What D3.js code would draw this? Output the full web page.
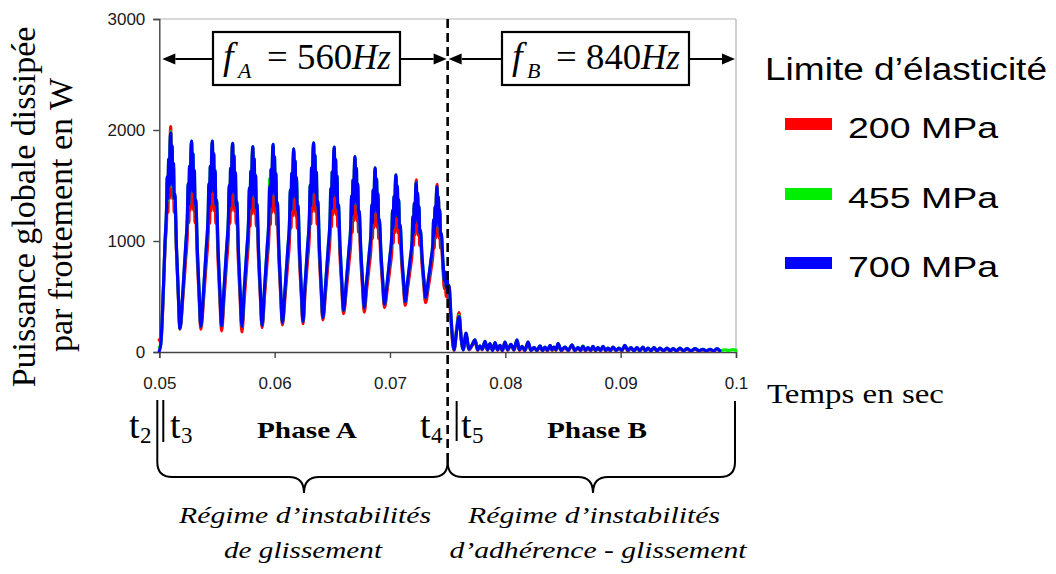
<!DOCTYPE html>
<html><head><meta charset="utf-8">
<script src="https://cdn.jsdelivr.net/npm/d3@7"></script>
<style>body{margin:0;background:#fff;}svg{display:block}</style>
</head><body>
<svg id="c" width="1056" height="574"></svg>
<script>
// ---------- DATA ----------
const timeMs = [
50.00,50.12,50.35,50.50,50.63,50.69,50.75,50.81,50.87,50.93,50.99,51.05,51.11,51.17,51.23,51.29,51.35,51.49,51.64,51.79,
52.05,52.28,52.44,52.50,52.56,52.62,52.68,52.74,52.80,52.86,52.92,52.98,53.04,53.10,53.16,53.30,53.45,53.60,
53.85,54.08,54.24,54.30,54.36,54.42,54.48,54.54,54.60,54.66,54.72,54.78,54.84,54.90,54.96,55.10,55.25,55.40,
55.61,55.84,56.00,56.06,56.12,56.18,56.24,56.30,56.36,56.42,56.48,56.54,56.60,56.66,56.72,56.86,57.01,57.16,
57.36,57.59,57.75,57.81,57.87,57.93,57.99,58.05,58.11,58.17,58.23,58.29,58.35,58.41,58.47,58.61,58.76,58.91,
59.12,59.35,59.51,59.57,59.63,59.69,59.75,59.81,59.87,59.93,59.99,60.05,60.11,60.17,60.23,60.37,60.52,60.67,
60.91,61.14,61.30,61.36,61.42,61.48,61.54,61.60,61.66,61.72,61.78,61.84,61.90,61.96,62.02,62.16,62.31,62.46,
62.63,62.86,63.02,63.08,63.14,63.20,63.26,63.32,63.38,63.44,63.50,63.56,63.62,63.68,63.74,63.88,64.03,64.18,
64.42,64.65,64.81,64.87,64.93,64.99,65.05,65.11,65.17,65.23,65.29,65.35,65.41,65.47,65.53,65.67,65.82,65.97,
66.22,66.45,66.61,66.67,66.73,66.79,66.85,66.91,66.97,67.03,67.09,67.15,67.21,67.27,67.33,67.47,67.62,67.77,
67.97,68.20,68.36,68.42,68.48,68.54,68.60,68.66,68.72,68.78,68.84,68.90,68.96,69.02,69.08,69.22,69.37,69.52,
69.77,70.00,70.16,70.22,70.28,70.34,70.40,70.46,70.52,70.58,70.64,70.70,70.76,70.82,70.88,71.02,71.17,71.32,
71.53,71.76,71.92,71.98,72.04,72.10,72.16,72.22,72.28,72.34,72.40,72.46,72.52,72.58,72.64,72.78,72.93,73.08,
73.33,73.56,73.72,73.78,73.84,73.90,73.96,74.02,74.08,74.14,74.20,74.26,74.32,74.38,74.44,74.60,74.72,74.80,74.88,74.96,75.04,75.12,75.30,
75.55,75.78,75.99,76.18,76.35,76.59,76.85,77.10,77.37,77.60,77.80,78.00,78.24,78.45,78.67,78.90,
79.11,79.32,79.54,79.75,79.97,80.20,80.49,80.75,81.01,81.22,81.45,81.70,81.97,82.22,82.49,82.75,
83.01,83.22,83.44,83.65,83.88,84.05,84.22,84.40,84.57,84.85,85.17,85.45,85.78,86.02,86.30,86.52,
86.73,86.95,87.16,87.40,87.60,87.82,88.03,88.25,88.47,88.70,88.90,89.10,89.33,89.60,89.85,90.10,
90.37,90.62,90.89,91.15,91.41,91.67,91.93,92.15,92.37,92.62,92.89,93.15,93.41,93.72,94.02,94.30,
94.54,94.85,95.14,95.45,95.75,96.10,96.44,96.80,97.13,97.45,97.74,98.05,98.35,98.60,
99.00,99.40,99.75,100.0
];
const mpa200 = [
110,90,540,960,1177,1543,1259,1705,1380,1827,2030,1583,1827,1380,1665,1259,1340,910,530,205,
500,825,1090,1429,1166,1579,1278,1692,1880,1466,1692,1278,1542,1166,1241,827,495,205,
495,821,1085,1421,1159,1571,1272,1683,1870,1459,1683,1272,1533,1159,1234,816,482,190,
485,817,1085,1421,1159,1571,1272,1683,1870,1459,1683,1272,1533,1159,1234,812,475,180,
471,797,1061,1391,1135,1537,1244,1647,1830,1427,1647,1244,1501,1135,1208,813,497,220,
501,817,1073,1406,1147,1554,1258,1665,1850,1443,1665,1258,1517,1147,1221,831,518,245,
509,804,1044,1368,1116,1512,1224,1620,1800,1404,1620,1224,1476,1116,1188,815,516,255,
527,832,1079,1414,1153,1562,1265,1674,1860,1451,1674,1265,1525,1153,1228,853,553,290,
543,826,1056,1383,1128,1529,1238,1638,1820,1420,1638,1238,1492,1128,1201,859,585,345,
564,810,1009,1322,1079,1462,1183,1566,1740,1357,1566,1183,1427,1079,1148,833,581,360,
557,778,957,1254,1023,1386,1122,1485,1650,1287,1485,1122,1353,1023,1089,813,593,400,
570,761,916,1201,980,1327,1074,1422,1580,1232,1422,1074,1296,980,1043,794,594,420,
578,755,899,1178,961,1302,1054,1395,1550,1209,1395,1054,1271,961,1023,792,607,445,
587,747,876,1148,936,1268,1027,1359,1510,1178,1359,1027,1238,936,997,740,570,620,500,560,470,520,260,
15,210,355,110,25,160,20,55,100,15,50,20,90,15,70,15,
80,15,55,10,85,15,65,15,100,15,45,10,85,10,40,10,
50,10,40,10,55,15,40,15,70,10,40,10,60,10,35,10,
50,10,35,10,45,10,35,10,45,10,30,10,40,10,30,10,
55,10,35,10,35,10,40,10,30,10,35,10,30,10,30,10,
25,10,30,10,25,10,25,10,20,8,20,8,25,8,
null,null,null,null
];
const mpa455 = [
40,70,550,990,1290,1570,1370,1725,1490,1845,1985,1650,1845,1490,1690,1370,1410,930,545,210,
555,941,1254,1520,1330,1672,1444,1786,1900,1596,1786,1444,1634,1330,1368,913,549,230,
568,947,1254,1520,1330,1672,1444,1786,1900,1596,1786,1444,1634,1330,1368,915,552,235,
567,939,1241,1504,1316,1654,1429,1767,1880,1579,1767,1429,1617,1316,1354,904,545,230,
557,924,1221,1480,1295,1628,1406,1739,1850,1554,1739,1406,1591,1295,1332,895,546,240,
568,936,1234,1560,1309,1646,1421,1758,1870,1571,1758,1421,1608,1309,1346,914,568,265,
576,925,1208,1464,1281,1610,1391,1720,1830,1537,1720,1391,1574,1281,1318,901,567,275,
595,953,1244,1508,1320,1659,1433,1772,1885,1583,1772,1433,1621,1320,1357,938,603,310,
610,946,1218,1476,1292,1624,1402,1734,1845,1550,1734,1402,1587,1292,1328,947,642,375,
635,926,1162,1408,1232,1549,1338,1654,1760,1478,1654,1338,1514,1232,1267,920,643,400,
630,887,1096,1328,1162,1461,1262,1560,1660,1394,1560,1262,1428,1162,1195,889,644,430,
636,866,1053,1276,1117,1404,1212,1499,1595,1340,1499,1212,1372,1117,1148,871,649,455,
637,841,1007,1220,1068,1342,1159,1434,1525,1281,1434,1159,1312,1068,1098,855,660,490,
650,830,980,1190,1040,1305,1130,1395,1485,1250,1395,1130,1275,1040,1070,790,635,715,575,655,535,595,290,
20,200,330,115,20,165,25,60,110,20,55,25,95,20,75,15,
85,20,60,15,90,20,70,20,110,20,50,15,90,15,40,15,
55,15,45,15,60,20,45,20,75,15,45,15,65,15,40,15,
55,15,40,15,50,15,40,15,50,15,35,15,45,15,35,15,
60,15,40,12,40,12,45,12,35,12,40,12,35,12,35,12,
30,12,35,12,30,12,30,12,25,10,25,10,30,12,
20,15,22,15
];
const mpa700 = [
10,60,560,1000,1304,1580,1383,1738,1501,1857,1975,1659,1857,1501,1699,1383,1422,937,549,210,
555,941,1254,1520,1330,1672,1444,1786,1900,1596,1786,1444,1634,1330,1368,913,549,230,
568,947,1254,1520,1330,1672,1444,1786,1900,1596,1786,1444,1634,1330,1368,915,552,235,
567,939,1241,1504,1316,1654,1429,1767,1880,1579,1767,1429,1617,1316,1354,904,545,230,
557,924,1221,1480,1295,1628,1406,1739,1850,1554,1739,1406,1591,1295,1332,895,546,240,
568,936,1234,1496,1309,1646,1421,1758,1870,1571,1758,1421,1608,1309,1346,914,568,265,
576,925,1208,1464,1281,1610,1391,1720,1830,1537,1720,1391,1574,1281,1318,901,567,275,
595,953,1244,1508,1320,1659,1433,1772,1885,1583,1772,1433,1621,1320,1357,938,603,310,
610,946,1218,1476,1292,1624,1402,1734,1845,1550,1734,1402,1587,1292,1328,947,642,375,
635,926,1162,1408,1232,1549,1338,1654,1760,1478,1654,1338,1514,1232,1267,920,643,400,
630,887,1096,1328,1162,1461,1262,1560,1660,1394,1560,1262,1428,1162,1195,889,644,430,
636,866,1053,1276,1117,1404,1212,1499,1595,1340,1499,1212,1372,1117,1148,871,649,455,
637,841,1007,1220,1068,1342,1159,1434,1525,1281,1434,1159,1312,1068,1098,855,660,490,
653,835,983,1192,1043,1311,1132,1401,1490,1252,1401,1132,1281,1043,1073,800,640,720,580,660,540,600,300,
20,190,320,120,20,170,25,60,110,20,55,25,95,20,75,15,
85,20,60,15,90,20,70,20,110,20,50,15,90,15,40,15,
55,15,45,15,60,20,45,20,75,15,45,15,65,15,40,15,
50,15,40,15,50,15,40,15,50,15,35,15,45,15,35,15,
60,15,40,12,40,12,45,12,35,12,40,12,35,12,35,12,
30,12,35,12,30,12,30,12,25,10,25,10,30,10,
null,null,null,null
];
const seriesNames = ["200 MPa", "455 MPa", "700 MPa"];
const seriesColors = ["#ff0000", "#00ee00", "#0000ff"];
const xTicks = [0.05, 0.06, 0.07, 0.08, 0.09, 0.1];
const xTickLabels = ["0.05", "0.06", "0.07", "0.08", "0.09", "0.1"];
const yTicks = [0, 1000, 2000, 3000];
const yTickLabels = ["0", "1000", "2000", "3000"];
const phaseBoundary = 0.075;

// ---------- DRAWING ----------
const SERIF = "'Liberation Serif','Times New Roman',serif";
const SANS = "'Liberation Sans',Arial,sans-serif";
const svg = d3.select("#c");
const x = d3.scaleLinear().domain([0.05, 0.1]).range([159.3, 736]);
const y = d3.scaleLinear().domain([0, 3000]).range([352, 19]);

function txt(p, o) {
  const t = p.append("text").attr("x", o.x).attr("y", o.y).text(o.text)
    .attr("font-family", o.family || SERIF).attr("font-size", o.size)
    .attr("fill", "#000").attr("text-anchor", o.anchor || "start");
  if (o.weight) t.attr("font-weight", o.weight);
  if (o.style) t.attr("font-style", o.style);
  if (o.width || o.sx) {
    const w = o.width || t.node().getComputedTextLength() * o.sx;
    t.attr("textLength", w).attr("lengthAdjust", "spacingAndGlyphs");
  }
  return t;
}

// frame (top / right)
svg.append("line").attr("x1", x(0.05)).attr("x2", x(0.1)).attr("y1", y(3000)).attr("y2", y(3000))
  .attr("stroke", "#b4b4b4").attr("stroke-width", 1.2);
svg.append("line").attr("x1", x(0.1)).attr("x2", x(0.1)).attr("y1", y(3000)).attr("y2", y(0))
  .attr("stroke", "#b4b4b4").attr("stroke-width", 1.2);

// axes
const gy = svg.append("g").attr("transform", `translate(${x(0.05)},0)`)
  .call(d3.axisLeft(y).tickValues(yTicks).tickSize(6).tickPadding(8).tickFormat((d, i) => yTickLabels[i]));
const gx = svg.append("g").attr("transform", `translate(0,${y(0)})`)
  .call(d3.axisBottom(x).tickValues(xTicks).tickSize(6).tickPadding(19).tickFormat((d, i) => xTickLabels[i]));
[gx, gy].forEach(g => {
  g.select(".domain").attr("stroke", "#444").attr("stroke-width", 1.4);
  g.selectAll(".tick line").attr("stroke", "#444").attr("stroke-width", 1.4);
  g.selectAll(".tick text").attr("font-family", SANS).attr("font-size", 17).attr("fill", "#1a1a1a");
});

// series
const seriesVals = [mpa200, mpa455, mpa700];
const line = d3.line().defined(d => d.v != null)
  .x(d => x(d.t / 1000)).y(d => y(d.v)).curve(d3.curveMonotoneX);
seriesVals.forEach((vals, k) => {
  const pts = timeMs.map((t, i) => ({ t, v: vals[i] }));
  svg.append("path").attr("d", line(pts)).attr("fill", "none")
    .attr("stroke", seriesColors[k]).attr("stroke-width", 3.2)
    .attr("stroke-linejoin", "round").attr("stroke-linecap", "round");
});

// dashed phase boundary
svg.append("line").attr("x1", x(phaseBoundary)).attr("x2", x(phaseBoundary))
  .attr("y1", y(3000)).attr("y2", 466).attr("stroke", "#000")
  .attr("stroke-width", 2.6).attr("stroke-dasharray", "9,5");

// frequency boxes and arrows
function arrow(x1, x2, yy) {
  const dir = Math.sign(x2 - x1), L = 13, H = 5.5;
  svg.append("line").attr("x1", x1).attr("x2", x2 - dir * L).attr("y1", yy).attr("y2", yy)
    .attr("stroke", "#000").attr("stroke-width", 2);
  svg.append("path").attr("d", `M${x2},${yy}L${x2 - dir * L},${yy - H}L${x2 - dir * L},${yy + H}Z`).attr("fill", "#000");
}
const ay = 59;
arrow(213, x(0.05) + 3, ay); arrow(400, x(phaseBoundary) - 1, ay);
arrow(502, x(phaseBoundary) + 1, ay); arrow(689, x(0.1) - 1, ay);
[[213, 32], [502, 32]].forEach(([bx, by]) => {
  svg.append("rect").attr("x", bx).attr("y", by).attr("width", 187).attr("height", 53)
    .attr("fill", "#fff").attr("stroke", "#000").attr("stroke-width", 2.2);
});
function freq(x0, sub, num) {
  txt(svg, { x: x0, y: 69, text: "f", size: 38, style: "italic" });
  txt(svg, { x: x0 + 15, y: 78, text: sub, size: 22, style: "italic" });
  txt(svg, { x: x0 + 44, y: 69, text: "=", size: 35, sx: 1.05 });
  txt(svg, { x: x0 + 74, y: 69, text: num, size: 35, sx: 1.05 });
  txt(svg, { x: x0 + 129, y: 69, text: "Hz", size: 35, style: "italic", sx: 1.0 });
}
freq(223, "A", "560");
freq(512, "B", "840");

// legend
txt(svg, { x: 765, y: 80, text: "Limite d\u2019\u00e9lasticit\u00e9", size: 31, family: SANS, width: 282 });
const legY = [124, 194, 263];
seriesNames.forEach((n, k) => {
  svg.append("rect").attr("x", 785).attr("y", legY[k] - 6).attr("width", 47).attr("height", 12).attr("fill", seriesColors[k]);
  txt(svg, { x: 848, y: legY[k] + 14, text: n, size: 29, family: SANS, width: 150 });
});

// axis titles
const yl = svg.append("g").attr("transform", "translate(35,207) rotate(-90)");
txt(yl, { x: 0, y: 0, text: "Puissance globale dissip\u00e9e", size: 34, anchor: "middle" });
txt(yl, { x: -8, y: 37, text: "par frottement en W", size: 34, anchor: "middle" });
txt(svg, { x: 767, y: 403, text: "Temps en sec", size: 27, sx: 1.22 });

// phase annotations
const ann = svg.append("g").attr("stroke", "#000").attr("stroke-width", 2).attr("fill", "none");
const xa = x(0.05), xb = x(phaseBoundary), xc = x(0.1);
ann.append("line").attr("x1", xa - 2).attr("x2", xa - 2).attr("y1", 400).attr("y2", 462);
ann.append("line").attr("x1", xa + 4).attr("x2", xa + 4).attr("y1", 400).attr("y2", 442);
ann.append("line").attr("x1", xb + 9).attr("x2", xb + 9).attr("y1", 401).attr("y2", 441);
ann.append("line").attr("x1", xc - 1).attr("x2", xc - 1).attr("y1", 401).attr("y2", 462);
function brace(x1, x2, xm) {
  const y0 = 462, y1 = 477, y2 = 493, r = 15;
  ann.append("path").attr("d",
    `M${x1},${y0}Q${x1},${y1} ${x1 + r},${y1}H${xm - r}Q${xm},${y1} ${xm},${y2}` +
    `Q${xm},${y1} ${xm + r},${y1}H${x2 - r}Q${x2},${y1} ${x2},${y0}`);
}
brace(xa - 2, xb, 304);
brace(xb, xc - 1, 593);

function tLabel(x0, s) {
  txt(svg, { x: x0, y: 438, text: "t", size: 38 });
  txt(svg, { x: x0 + 11, y: 443, text: s, size: 23 });
}
tLabel(129, "2"); tLabel(170, "3"); tLabel(420, "4"); tLabel(461, "5");
txt(svg, { x: 307, y: 438, text: "Phase A", size: 24, weight: "bold", anchor: "middle", sx: 1.22 });
txt(svg, { x: 597, y: 438, text: "Phase B", size: 24, weight: "bold", anchor: "middle", sx: 1.22 });

txt(svg, { x: 305, y: 523, text: "R\u00e9gime d\u2019instabilit\u00e9s", size: 24, style: "italic", anchor: "middle", width: 252 });
txt(svg, { x: 303, y: 558, text: "de glissement", size: 24, style: "italic", anchor: "middle", width: 158 });
txt(svg, { x: 594, y: 523, text: "R\u00e9gime d\u2019instabilit\u00e9s", size: 24, style: "italic", anchor: "middle", width: 252 });
txt(svg, { x: 598, y: 558, text: "d\u2019adh\u00e9rence - glissement", size: 24, style: "italic", anchor: "middle", width: 297 });
</script>
</body></html>
